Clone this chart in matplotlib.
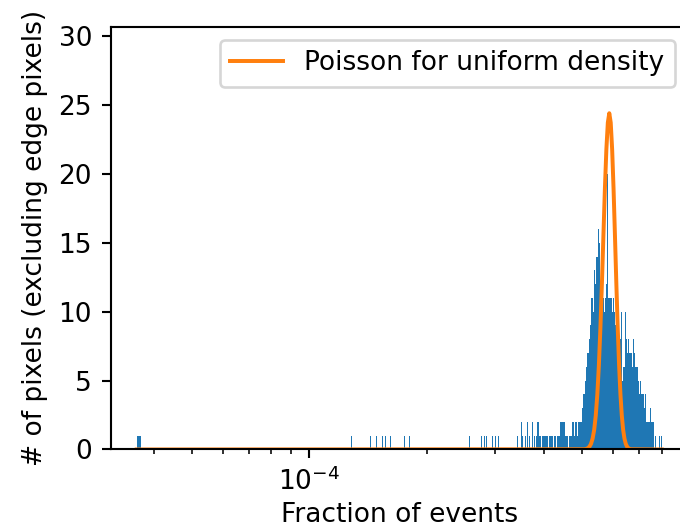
import numpy as np
import matplotlib
matplotlib.use("Agg")
import matplotlib.pyplot as plt

# isolated histogram bins (left edge, fraction of events) and their counts
sparse_left = [3.615e-5, 1.281e-4, 1.428e-4, 1.483e-4, 1.538e-4, 1.564e-4,
               1.615e-4, 1.751e-4, 1.799e-4, 2.567e-4, 2.760e-4, 2.806e-4,
               2.842e-4, 2.944e-4, 2.999e-4, 3.052e-4, 3.127e-4, 3.151e-4,
               3.185e-4, 3.317e-4, 3.408e-4, 3.443e-4, 3.463e-4, 3.490e-4,
               3.515e-4, 3.577e-4, 3.620e-4, 3.663e-4, 3.724e-4, 3.773e-4,
               3.817e-4, 3.840e-4, 3.863e-4, 3.886e-4, 3.909e-4, 3.927e-4,
               3.955e-4, 3.979e-4]
sparse_counts = [1, 1, 1, 1, 1, 1, 1, 1, 1, 1, 1, 1, 1, 1, 1, 1, 1, 1, 1, 2,
                 1, 1, 1, 2, 1, 1, 2, 1, 2, 1, 1, 2, 2, 1, 1, 2, 1, 1]
bin_width = 8.2e-7

# dense part of the histogram, consecutive bins starting at 4e-4
dense_start = 4.0e-4
dense_width = 4.0e-6
dense_counts = [1, 1, 0, 1, 1, 0, 1, 0, 1, 1,
                2, 2, 2, 1, 1, 0, 1, 1, 2, 1,
                2, 1, 2, 2, 2, 3, 4, 5, 6, 7,
                8, 9, 11, 10, 13, 12, 14, 16, 15, 12,
                11, 11, 10, 11, 12, 20, 11, 11, 11, 10,
                11, 10, 9, 10, 9, 8, 8, 10, 5, 6,
                6, 10, 8, 7, 8, 7, 7, 7, 6, 8,
                7, 6, 6, 6, 5, 4, 5, 4, 4, 4,
                3, 4, 2, 2, 2, 1, 2, 3, 2, 2,
                2, 0, 1, 0, 1, 0, 0, 1, 0, 1]

# Poisson expectation
poisson_x = [3.615e-5, 5.07e-4, 5.12e-4, 5.17e-4, 5.22e-4, 5.27e-4, 5.32e-4,
             5.37e-4, 5.42e-4, 5.47e-4, 5.52e-4, 5.57e-4, 5.62e-4, 5.67e-4,
             5.72e-4, 5.77e-4, 5.82e-4, 5.87e-4, 5.92e-4, 5.97e-4, 6.02e-4,
             6.07e-4, 6.12e-4, 6.17e-4, 6.22e-4, 6.27e-4, 6.32e-4, 6.37e-4,
             6.42e-4, 6.47e-4, 6.52e-4, 6.57e-4, 6.62e-4, 6.67e-4, 8.0e-4]
poisson_y = [0, 0.017, 0.041, 0.094, 0.20, 0.41, 0.79, 1.43, 2.46, 3.98,
             6.09, 8.80, 12.01, 15.50, 18.91, 21.78, 23.72, 24.4, 23.72,
             21.78, 18.91, 15.50, 12.01, 8.80, 6.09, 3.98, 2.46, 1.43, 0.79,
             0.41, 0.20, 0.094, 0.041, 0.017, 0]

dense_left = dense_start + dense_width * np.arange(len(dense_counts))

DPI = 190
fig = plt.figure(figsize=(680 / DPI, 530 / DPI), dpi=DPI)
# axes run a little past the right edge of the image, like the original crop
ax = fig.add_axes([0.1625, 0.1519, 0.8493, 0.7977])

ax.bar(sparse_left, sparse_counts, width=bin_width, align="edge",
       color="#1f77b4", linewidth=0)
ax.bar(dense_left, dense_counts, width=dense_width, align="edge",
       color="#1f77b4", linewidth=0)
ax.plot(poisson_x, poisson_y, color="#ff7f0e", label="Poisson for uniform density")

ax.set_xscale("log")
ax.set_xlim(3.097e-5, 9.34e-4)
ax.set_ylim(0, 30.68)
ax.set_yticks([0, 5, 10, 15, 20, 25, 30])
ax.set_xlabel("Fraction of events", labelpad=2)
ax.set_ylabel("# of pixels (excluding edge pixels)")
ax.legend(loc="upper right")

fig.savefig("out.png", dpi=DPI)
